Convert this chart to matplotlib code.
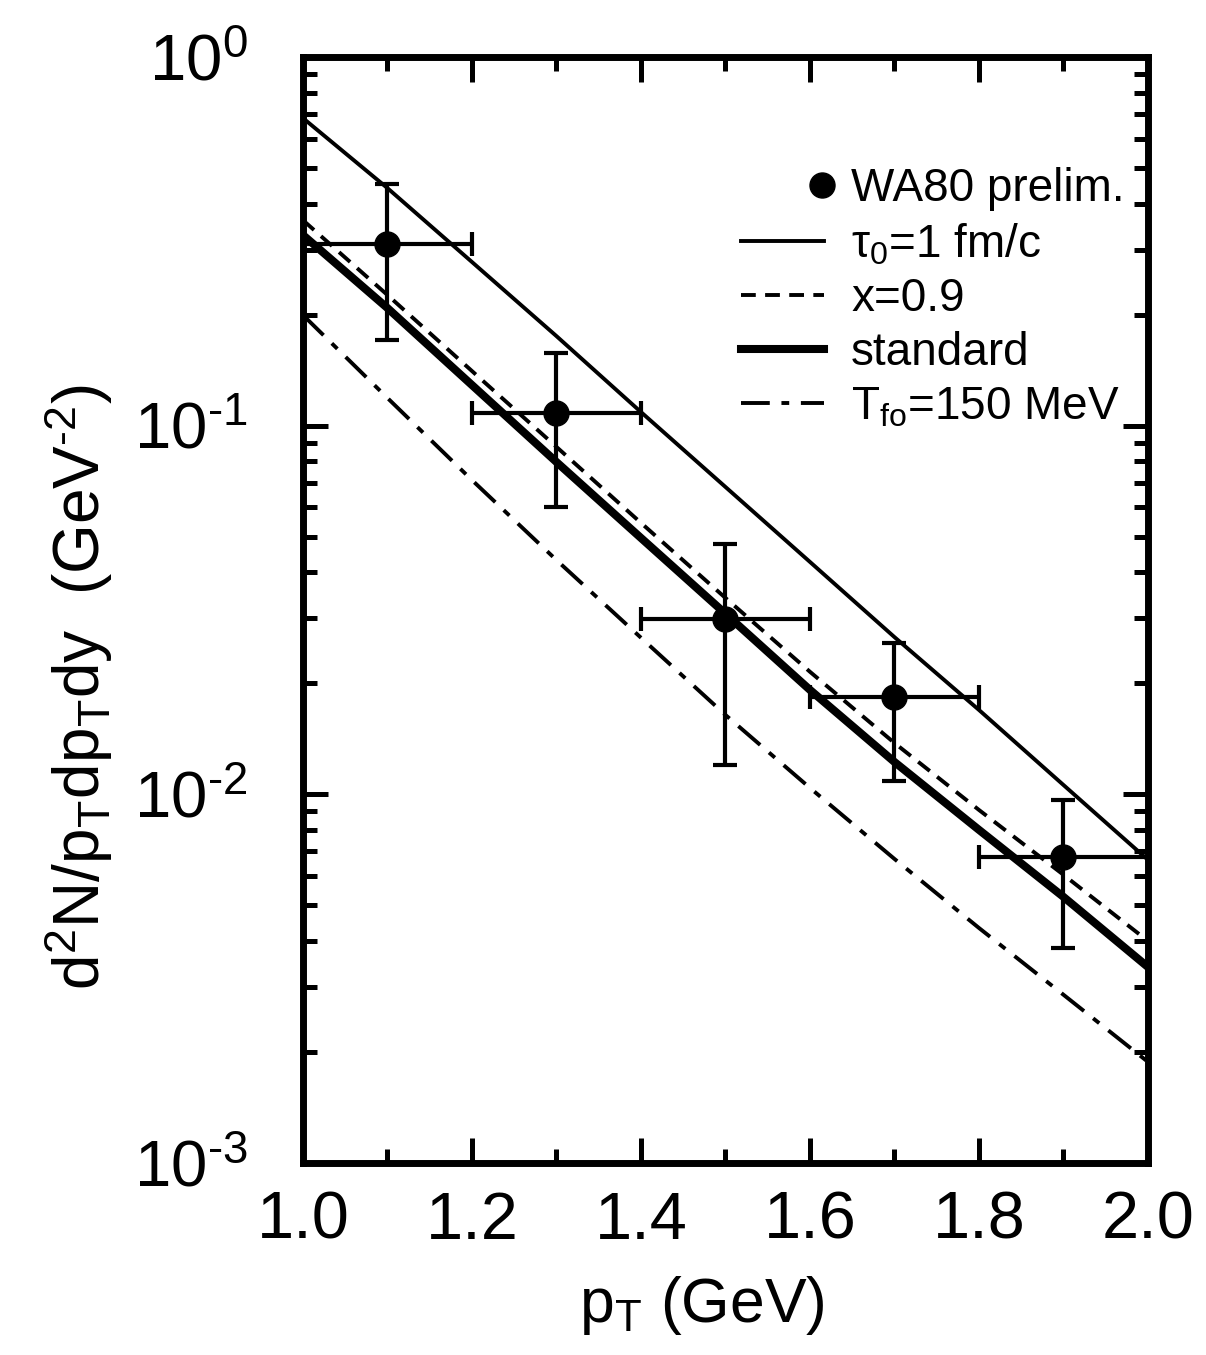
import numpy as np
import matplotlib.pyplot as plt
from matplotlib.legend_handler import HandlerLine2D
from matplotlib.ticker import FixedLocator, LogLocator, NullFormatter, FuncFormatter

plt.rcParams['font.family'] = ['Liberation Sans', 'DejaVu Sans']
plt.rcParams['mathtext.fontset'] = 'custom'
plt.rcParams['mathtext.rm'] = 'Liberation Sans'
plt.rcParams['mathtext.it'] = 'Liberation Sans'
plt.rcParams['mathtext.default'] = 'regular'
plt.rcParams['axes.unicode_minus'] = False

# WA80 data points
pt_data = [1.1, 1.3, 1.5, 1.7, 1.9]
y_data = [0.311, 0.108, 0.0299, 0.0184, 0.00677]
y_hi = [0.453, 0.157, 0.0478, 0.0257, 0.00966]
y_lo = [0.171, 0.060, 0.0120, 0.0109, 0.00383]
pt_err = [0.1, 0.1, 0.1, 0.1, 0.1]

# model curves
pt_curve = [1.0, 1.1, 1.2, 1.3, 1.4, 1.5, 1.6, 1.7, 1.8, 1.9, 2.0]
tau1 = [0.683, 0.441, 0.278, 0.175, 0.1089, 0.0682, 0.0427, 0.0267, 0.01694, 0.0106, 0.00664]
x09 = [0.361, 0.2262, 0.1407, 0.0876, 0.0545, 0.0341, 0.0215, 0.01378, 0.00907, 0.00605, 0.0040]
standard = [0.329, 0.2085, 0.1289, 0.0797, 0.0496, 0.0309, 0.0192, 0.01224, 0.00801, 0.00527, 0.0034]
tfo150 = [0.1996, 0.1189, 0.0712, 0.0432, 0.0266, 0.01642, 0.01041, 0.00668, 0.00434, 0.00286, 0.00188]


class EndDot(HandlerLine2D):
    # single legend dot sitting at the right end of the handle
    def get_xdata(self, legend, xdescent, ydescent, width, height, fontsize):
        xd = np.array([-xdescent + width * 0.98] * 2)
        return xd, xd[:1]


fig = plt.figure(figsize=(12.06, 13.55), dpi=100)
ax = fig.add_axes([0.2512, 0.1417, 0.7007, 0.8162])

ax.plot(pt_curve, tau1, color='black', lw=2.8, label=r'τ$_0$=1 fm/c')
ax.plot(pt_curve, x09, color='black', lw=2.8, dashes=[3.8, 2.4], label='x=0.9')
ax.plot(pt_curve, standard, color='black', lw=5.8, label='standard')
ax.plot(pt_curve, tfo150, color='black', lw=2.8, dashes=[7.4, 3, 2, 3],
        label=r'T$_{fo}$=150 MeV')

yerr = [np.array(y_data) - np.array(y_lo), np.array(y_hi) - np.array(y_data)]
ax.errorbar(pt_data, y_data, xerr=pt_err, yerr=yerr, fmt='none', ecolor='black',
            elinewidth=3, capsize=8.5, capthick=3, zorder=5)
dots, = ax.plot(pt_data, y_data, 'o', color='black', ms=18, zorder=6, label='WA80 prelim.')

ax.set_yscale('log')
ax.set_xlim(1.0, 2.0)
ax.set_ylim(1e-3, 1.0)

ax.xaxis.set_major_locator(FixedLocator([1.0, 1.2, 1.4, 1.6, 1.8, 2.0]))
ax.xaxis.set_minor_locator(FixedLocator([1.1, 1.3, 1.5, 1.7, 1.9]))
ax.yaxis.set_major_locator(LogLocator(base=10, numticks=10))
ax.yaxis.set_minor_locator(LogLocator(base=10, subs=np.arange(2, 10), numticks=20))
ax.yaxis.set_minor_formatter(NullFormatter())
ax.yaxis.set_major_formatter(FuncFormatter(lambda v, p: r'$10^{\text{%d}}$' % round(np.log10(v))))
ax.xaxis.set_major_formatter(FuncFormatter(lambda v, p: '%.1f' % v))

ax.tick_params(which='both', direction='in', top=True, right=True, width=3.6, color='black')
ax.tick_params(which='major', length=18)
ax.tick_params(which='minor', length=10)
ax.tick_params(axis='x', labelsize=48, pad=20)
ax.tick_params(axis='y', labelsize=47, pad=40)
for s in ax.spines.values():
    s.set_linewidth(5)

ax.set_xlabel(r'p$_T$ (GeV)', fontsize=45)
ax.xaxis.set_label_coords(0.472, -0.1)
ax.set_ylabel(r'd$^2$N/p$_T$dp$_T$dy  (GeV$^{\text{-2}}$)', fontsize=46)
ax.yaxis.set_label_coords(-0.222, 0.43)

handles, labels = ax.get_legend_handles_labels()
order = [4, 0, 1, 2, 3]
ax.legend([handles[i] for i in order], [labels[i] for i in order],
          loc='upper right', bbox_to_anchor=(1.005, 0.925), frameon=False,
          fontsize=33, handlelength=1.8, handletextpad=0.6, labelspacing=0.22,
          borderaxespad=0.2, handler_map={dots: EndDot()})

fig.savefig('out.png', dpi=100)
